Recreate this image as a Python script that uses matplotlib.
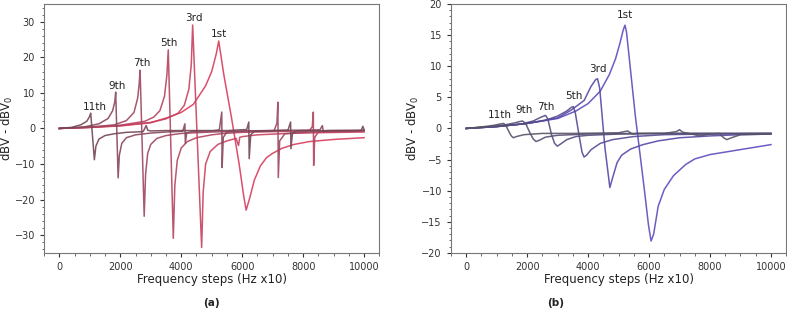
import matplotlib
matplotlib.use("Agg")
import matplotlib.pyplot as plt

# ---- panel (a): values ----
harmonics = ["1st", "3rd", "5th", "7th", "9th", "11th"]

a_x_1st = [0, 1000, 2000, 3000, 3600, 4000, 4400, 4800, 5000, 5150, 5230, 5400, 5650, 5900,
           6050, 6130, 6250, 6400, 6600, 6800, 7000, 7300, 7700, 8200, 9000, 10000]
a_y_1st = [0, 0.3, 0.7, 1.6, 3.2, 4.5, 6.8, 12, 16, 21, 24.6, 15, 3, -10,
           -19, -23, -19.5, -14.5, -10.5, -8.2, -7, -5.6, -4.5, -3.7, -3.1, -2.6]

a_x_3rd = [0, 1000, 2000, 3000, 3500, 3900, 4100, 4250, 4330, 4375, 4670, 4720, 4800, 4950,
           5200, 5500, 5800, 5880, 5920, 6000, 6500, 7500, 8500, 10000]
a_y_3rd = [0, 0.3, 0.8, 1.7, 2.7, 4.3, 6.5, 11, 18, 29.1, -33.5, -18, -10, -6.5,
           -4.5, -3.5, -2.8, -4.8, -2.5, -2.3, -1.8, -1.4, -1.2, -1.0]

a_x_5th = [0, 1000, 2000, 2800, 3100, 3300, 3450, 3530, 3575, 3740, 3790, 3870, 4000, 4200,
           4500, 5000, 5400, 6000, 7000, 8200, 8300, 8334, 8345, 8380, 8500, 9000, 10000]
a_y_5th = [0, 0.3, 0.9, 2.0, 3.2, 5.0, 9, 15, 22.1, -30.9, -16, -9, -5.5, -3.7,
           -2.6, -1.8, -1.4, -1.1, -0.9, -0.7, 0.5, 4.6, -10.4, -2.5, -1.0, -0.9, -0.7]

a_x_7th = [0, 1000, 1800, 2200, 2450, 2570, 2620, 2650, 2785, 2830, 2900, 3000, 3200, 3500,
           4000, 5000, 6000, 7050, 7140, 7171, 7185, 7230, 7400, 8500, 10000]
a_y_7th = [0, 0.4, 1.0, 2.2, 4.5, 8.5, 12.5, 16.4, -24.7, -13, -7, -4.5, -2.8, -2.0,
           -1.4, -1.0, -0.8, -0.6, 1.5, 7.4, -13.8, -3.5, -1.5, -0.8, -0.6]

a_x_9th = [0, 800, 1300, 1600, 1750, 1820, 1850, 1930, 1970, 2050, 2200, 2500, 3000, 3500,
           4050, 4120, 4135, 4180, 4400, 5000, 5250, 5330, 5342, 5380, 5500, 6000, 8550,
           8631, 8660, 8800, 10000]
a_y_9th = [0, 0.4, 1.3, 2.8, 5.0, 7.5, 10.2, -13.9, -7.5, -4.2, -2.6, -1.8, -1.3, -1.0,
           -0.8, 1.3, -4.2, -1.2, -0.8, -0.7, -0.4, 4.6, -11.0, -2.5, -1.0, -0.7, -0.4,
           0.8, -0.8, -0.6, -0.5]

a_x_11th = [0, 400, 700, 900, 990, 1030, 1150, 1200, 1300, 1500, 1800, 2200, 2750, 2850,
            2900, 3000, 3500, 4500, 5500, 6150, 6217, 6230, 6280, 6400, 7500, 7589, 7600,
            7650, 7800, 9000, 9900, 9960, 10000]
a_y_11th = [0, 0.3, 1.0, 2.0, 3.3, 4.3, -8.8, -5, -3, -2.0, -1.5, -1.1, -0.9, 0.8,
            -0.5, -0.7, -0.6, -0.6, -0.6, -0.3, 1.8, -8.5, -1.8, -0.8, -0.5, 1.8, -5.7,
            -1.3, -0.7, -0.6, -0.6, 0.6, -0.4]

a_label_x = [5252, 4408, 3585, 2697, 1886, 1173]
a_label_y = [26.5, 31.0, 24.0, 18.3, 12.0, 6.0]

# ---- panel (b) ----
b_x_1st = [0, 1000, 2000, 3000, 3600, 4000, 4400, 4700, 4900, 5050, 5150, 5209, 5260, 5400,
           5550, 5700, 5850, 5980, 6066, 6150, 6300, 6500, 6800, 7200, 7500, 8000, 9000, 10000]
b_y_1st = [0, 0.3, 0.8, 1.6, 2.8, 4.0, 6.0, 8.7, 11.2, 13.8, 15.8, 16.6, 15.5, 9,
           2, -4, -10, -15.5, -18.1, -17, -12.5, -9.8, -7.6, -5.8, -4.9, -4.2, -3.4, -2.6]

b_x_3rd = [0, 1000, 2000, 3000, 3430, 3870, 4090, 4240, 4308, 4380, 4550, 4714, 4800, 4950,
           5100, 5400, 5800, 6300, 7000, 8000, 9000, 10000]
b_y_3rd = [0, 0.3, 0.8, 1.7, 2.9, 4.5, 6.7, 7.8, 8.0, 6.5, -3, -9.5, -8, -5.5,
           -4.3, -3.3, -2.6, -2.0, -1.5, -1.2, -1.0, -0.9]

b_x_5th = [0, 1000, 2000, 2600, 3000, 3300, 3450, 3517, 3580, 3700, 3800, 3868, 3950, 4100,
           4400, 4800, 5500, 6500, 8000, 10000]
b_y_5th = [0, 0.3, 0.8, 1.3, 2.0, 2.8, 3.4, 3.5, 2.5, -1.0, -3.8, -4.6, -4.3, -3.4,
           -2.4, -1.8, -1.3, -1.0, -0.9, -0.8]

b_x_7th = [0, 1000, 1800, 2200, 2450, 2605, 2680, 2800, 2900, 2990, 3100, 3300, 3600, 4000,
           5000, 6500, 8000, 10000]
b_y_7th = [0, 0.3, 0.7, 1.2, 1.8, 2.1, 1.5, -1.0, -2.4, -2.85, -2.5, -1.8, -1.3, -1.1,
           -0.9, -0.8, -0.8, -0.8]

b_x_9th = [0, 800, 1300, 1600, 1750, 1850, 1950, 2100, 2200, 2290, 2400, 2600, 3000, 4000,
           5500, 7000, 8000, 10000]
b_y_9th = [0, 0.3, 0.6, 0.9, 1.1, 1.2, 0.8, -0.8, -1.7, -2.1, -1.9, -1.4, -1.1, -0.9,
           -0.8, -0.8, -0.8, -0.8]

b_x_11th = [0, 600, 900, 1100, 1230, 1300, 1400, 1480, 1550, 1650, 1900, 2500, 3500, 5000,
            5300, 5450, 5600, 6500, 6900, 7000, 7100, 7400, 7650, 7800, 8000, 8300, 8450,
            8550, 8700, 9000, 10000]
b_y_11th = [0, 0.3, 0.5, 0.7, 0.8, 0.5, -0.5, -1.2, -1.5, -1.3, -1.0, -0.8, -0.8, -0.7,
            -0.4, -0.9, -0.8, -0.8, -0.5, -0.2, -0.6, -0.9, -1.2, -1.1, -0.9, -0.8, -1.5,
            -1.8, -1.5, -1.0, -0.9]

b_label_x = [5220, 4330, 3538, 2626, 1890, 1088]
b_label_y = [18.2, 9.5, 5.2, 3.4, 2.9, 2.1]

a_colors = ["#d83c5c", "#c9405e", "#b4435f", "#9e465e", "#88475b", "#744656"]
b_colors = ["#5a4cbf", "#5448a6", "#544a92", "#554c80", "#584f72", "#585267"]

a_series = [(a_x_1st, a_y_1st), (a_x_3rd, a_y_3rd), (a_x_5th, a_y_5th),
            (a_x_7th, a_y_7th), (a_x_9th, a_y_9th), (a_x_11th, a_y_11th)]
b_series = [(b_x_1st, b_y_1st), (b_x_3rd, b_y_3rd), (b_x_5th, b_y_5th),
            (b_x_7th, b_y_7th), (b_x_9th, b_y_9th), (b_x_11th, b_y_11th)]

fig = plt.figure(figsize=(7.87, 3.11), dpi=100)
ax_a = fig.add_axes([0.056, 0.187, 0.426, 0.800])
ax_b = fig.add_axes([0.573, 0.187, 0.426, 0.800])

panels = [(ax_a, a_series, a_colors, a_label_x, a_label_y, (-35, 35), "(a)", 211),
          (ax_b, b_series, b_colors, b_label_x, b_label_y, (-20, 20), "(b)", 556)]

for ax, series, colors, lx, ly, ylim, tag, tag_x in panels:
    for (x, y), c in zip(series, colors):
        ax.plot(x, y, color=c, lw=1.1, alpha=0.9)
    for name, tx, ty in zip(harmonics, lx, ly):
        ax.text(tx, ty, name, ha="center", va="center", fontsize=7.5, color="#222222")
    ax.set_xlim(-500, 10500)
    ax.set_ylim(*ylim)
    ax.set_xticks([0, 2000, 4000, 6000, 8000, 10000])
    ax.minorticks_on()
    ax.tick_params(labelsize=7, colors="#333333", length=3)
    ax.tick_params(which="minor", length=1.8, colors="#555555")
    for s in ax.spines.values():
        s.set_color("#777777")
    ax.set_xlabel("Frequency steps (Hz x10)", fontsize=8.5, color="#222222", labelpad=1)
    ax.set_ylabel("dBV - dBV$_0$", fontsize=8.5, color="#222222")
    ax.yaxis.set_label_coords(-0.088, 0.5)
    fig.text(tag_x / 787, 1 - 303 / 311, tag, ha="center", va="center",
             fontsize=7.5, fontweight="bold", color="#222222")

fig.savefig("out.png", dpi=100)
